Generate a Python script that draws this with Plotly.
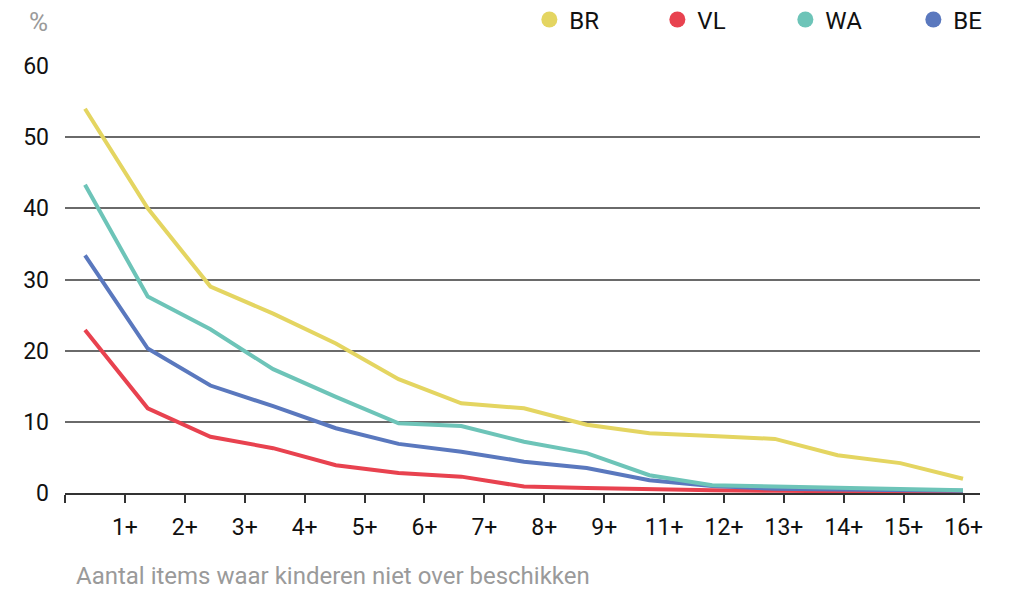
import plotly.graph_objects as go

categories = ["1+", "2+", "3+", "4+", "5+", "6+", "7+", "8+", "9+", "11+", "12+", "13+", "14+", "15+", "16+"]
br = [54.0, 40.0, 29.0, 25.2, 21.0, 16.0, 12.6, 11.9, 9.6, 8.4, 8.0, 7.6, 5.3, 4.2, 2.0]
vl = [22.9, 11.9, 7.9, 6.3, 3.9, 2.8, 2.3, 0.9, 0.7, 0.5, 0.4, 0.3, 0.3, 0.2, 0.2]
wa = [43.3, 27.6, 23.0, 17.4, 13.5, 9.8, 9.4, 7.2, 5.6, 2.5, 1.1, 0.9, 0.7, 0.5, 0.4]
be = [33.4, 20.3, 15.1, 12.2, 9.1, 6.9, 5.8, 4.4, 3.5, 1.8, 1.0, 0.6, 0.5, 0.4, 0.3]

series = [("BR", br, "#E4D561"), ("VL", vl, "#E8424F"), ("WA", wa, "#6DC4B8"), ("BE", be, "#5A78BE")]
draw_order = ["BR", "VL", "BE", "WA"]

xs = list(range(len(categories)))
fig = go.Figure()
lookup = {n: (v, c) for n, v, c in series}
for name in draw_order:
    vals, col = lookup[name]
    fig.add_trace(go.Scatter(x=xs, y=vals, mode="lines", name=name, showlegend=False,
                             line=dict(color=col, width=4), hoverinfo="skip"))
for name, vals, col in series:
    fig.add_trace(go.Scatter(x=[None], y=[None], mode="markers", name=name,
                             marker=dict(color=col, size=16)))

# tick axis: 16 ticks, first unlabeled, slightly narrower spacing than the data points
step = 59.9 / 62.7
left = -20 / 62.7
tickvals = [left + step * k for k in range(16)]
ticktext = [""] + categories

fig.update_layout(
    width=1004, height=585,
    margin=dict(l=57, r=32, t=58, b=100, autoexpand=False),
    paper_bgcolor="white", plot_bgcolor="white",
    font=dict(family="Roboto", size=21, color="#111"),
    showlegend=True,
    legend=dict(orientation="h", x=0.5075, xanchor="left", y=1.108, yanchor="middle",
                entrywidth=83, entrywidthmode="pixels", font=dict(size=24, color="#111"),
                bgcolor="rgba(0,0,0,0)"),
    xaxis=dict(range=[left, 14 + 17 / 62.7], tickmode="array", tickvals=tickvals, ticktext=ticktext,
               showgrid=False, zeroline=False, showline=True, linecolor="#333", linewidth=2,
               ticks="outside", ticklen=8, tickwidth=1.5, tickcolor="#333",
               ticklabelstandoff=4, tickfont=dict(size=23, color="#111")),
    yaxis=dict(range=[0, 60], tickvals=[0, 10, 20, 30, 40, 50, 60], showgrid=True,
               gridcolor="#6a6a6a", gridwidth=1.5, zeroline=False, showline=False,
               ticklabelstandoff=15, tickfont=dict(size=23, color="#111")),
    annotations=[
        dict(text="%", xref="paper", yref="paper", x=-0.0295, y=1.103, xanchor="center", yanchor="middle",
             showarrow=False, font=dict(size=26, color="#9a9a9a")),
        dict(text="Aantal items waar kinderen niet over beschikken", xref="paper", yref="paper",
             x=0.0098, y=-0.194, xanchor="left", yanchor="middle", showarrow=False,
             font=dict(size=24, color="#9a9a9a")),
    ],
)

fig.write_html("out.html")
